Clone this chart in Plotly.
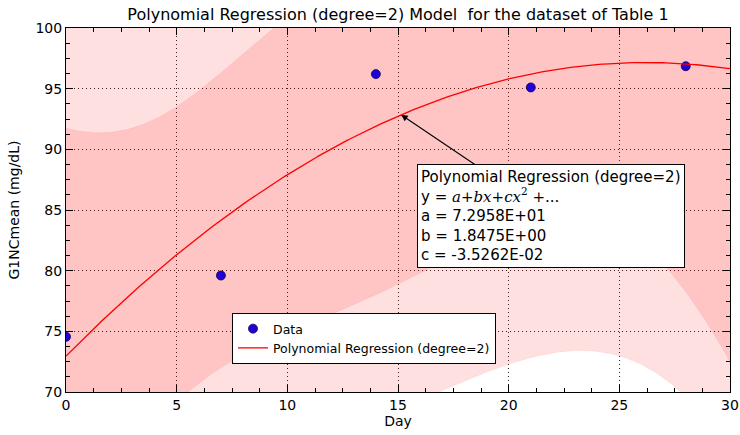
import numpy as np
import plotly.graph_objects as go

# ---- data ----
days = [0, 7, 14, 21, 28]
g1nc_mean = [74.55, 79.6, 96.2, 95.1, 96.85]
coef_a, coef_b, coef_c = 7.2958E+01, 1.8475E+00, -3.5262E-02
x_ticks = [0, 5, 10, 15, 20, 25, 30]
y_ticks = [70, 75, 80, 85, 90, 95, 100]
t_value = 4.3027  # Student t, 95%, 2 dof

# ---- model and bands (from data) ----
xd = np.array(days, float)
yd = np.array(g1nc_mean, float)
coefs = np.array([coef_a, coef_b, coef_c])
X = np.vstack([np.ones_like(xd), xd, xd ** 2]).T
resid = yd - X @ coefs
dof = len(xd) - 3
s2 = (resid @ resid) / dof
XtX_inv = np.linalg.inv(X.T @ X)

xs = np.linspace(0, 30, 301)
Xs = np.vstack([np.ones_like(xs), xs, xs ** 2]).T
fit = Xs @ coefs
lev = np.einsum('ij,jk,ik->i', Xs, XtX_inv, Xs)
conf_hw = t_value * np.sqrt(s2 * lev)
pred_hw = t_value * np.sqrt(s2 * (1 + lev))

FONT = "DejaVu Sans"
band_fill = "rgba(255,0,0,0.12)"
band_line = "rgba(255,0,0,0.10)"

fig = go.Figure()
# prediction band
fig.add_trace(go.Scatter(x=xs, y=fit - pred_hw, mode="lines",
                         line=dict(color=band_line, width=0.6),
                         showlegend=False, hoverinfo="skip"))
fig.add_trace(go.Scatter(x=xs, y=fit + pred_hw, mode="lines", fill="tonexty",
                         fillcolor=band_fill, line=dict(color=band_line, width=0.6),
                         showlegend=False, hoverinfo="skip"))
# confidence band
fig.add_trace(go.Scatter(x=xs, y=fit - conf_hw, mode="lines",
                         line=dict(color=band_line, width=0.6),
                         showlegend=False, hoverinfo="skip"))
fig.add_trace(go.Scatter(x=xs, y=fit + conf_hw, mode="lines", fill="tonexty",
                         fillcolor=band_fill, line=dict(color=band_line, width=0.6),
                         showlegend=False, hoverinfo="skip"))
# data
fig.add_trace(go.Scatter(x=days, y=g1nc_mean, mode="markers", name="Data",
                         marker=dict(color="#1f00d8", size=9,
                                     line=dict(color="#10004a", width=0.8))))
# fit
fig.add_trace(go.Scatter(x=xs, y=fit, mode="lines",
                         name="Polynomial Regression (degree=2)",
                         line=dict(color="#ff0000", width=1.3)))

x_arrow = 15.14
y_arrow = coef_a + coef_b * x_arrow + coef_c * x_arrow ** 2
box_text = ("Polynomial Regression (degree=2)<br>"
            "y = <span style=\"font-family:DejaVu Serif\"><i>a</i>+<i>bx</i>+"
            "<i>cx</i><sup>2</sup> +...</span><br>"
            f"a = {coef_a:.4E}<br>b = {coef_b:.4E}<br>c = {coef_c:.4E}")
fig.add_annotation(x=x_arrow, y=y_arrow, xref="x", yref="y",
                   ax=21.92, ay=84.5, axref="x", ayref="y",
                   text=box_text, align="left", showarrow=True,
                   arrowhead=2, arrowsize=1.2, arrowwidth=1.1, arrowcolor="black",
                   bgcolor="white", bordercolor="black", borderwidth=1, borderpad=3,
                   font=dict(family=FONT, size=15, color="black"))

axis_common = dict(showline=True, linecolor="black", linewidth=1, mirror="ticks",
                   ticks="inside", ticklen=7, tickcolor="black",
                   showgrid=True, gridcolor="rgba(0,0,0,0.85)", griddash="1px,3px",
                   gridwidth=1, zeroline=False, automargin=False,
                   tickfont=dict(family=FONT, size=14, color="black"),
                   minor=dict(dtick=1.25, ticks="inside", ticklen=4,
                              tickcolor="black", showgrid=False))
fig.update_xaxes(range=[0, 30], tickvals=x_ticks, ticktext=[str(v) for v in x_ticks],
                 title=dict(text="Day", font=dict(family=FONT, size=14, color="black"),
                            standoff=4),
                 **axis_common)
fig.update_yaxes(range=[70, 100], tickvals=y_ticks, ticktext=[str(v) for v in y_ticks],
                 title=dict(text="G1NCmean (mg/dL)",
                            font=dict(family=FONT, size=14, color="black"), standoff=12),
                 **axis_common)

fig.update_layout(
    width=740, height=435,
    margin=dict(l=66, r=10, t=28, b=43),
    paper_bgcolor="white", plot_bgcolor="white",
    font=dict(family=FONT, color="black"),
    title=dict(text="Polynomial Regression (degree=2) Model\u00a0 for the dataset of Table 1",
               x=0.5, xref="paper", y=1 - 14 / 435, yanchor="middle",
               font=dict(family=FONT, size=16, color="black")),
    legend=dict(x=0.25, y=0.217, xanchor="left", yanchor="top",
                bgcolor="white", bordercolor="black", borderwidth=1,
                traceorder="normal",
                font=dict(family=FONT, size=12.5, color="black"),
                tracegroupgap=0, itemwidth=30),
)

fig.write_html("out.html", config={"displayModeBar": False},
               post_script="document.body.style.margin='0';document.body.style.padding='0';")
